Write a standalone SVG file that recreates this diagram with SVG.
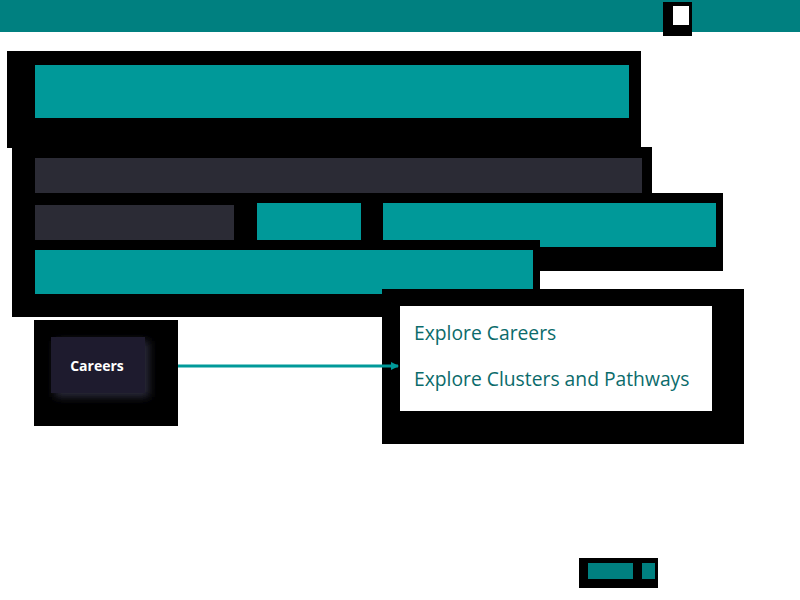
<svg xmlns="http://www.w3.org/2000/svg" width="800" height="600" viewBox="0 0 800 600">
<defs>
<style>
.sh{fill:#000}
.teal{fill:#009999}
.tealdk{fill:#008080}
.dark{fill:#2b2b35}
.menu{font-family:"Open Sans","Noto Sans",sans-serif;font-size:19.3px;fill:#0b6b6b}
.lbl{font-family:"Open Sans","Noto Sans",sans-serif;font-size:14px;font-weight:bold;fill:#ffffff}
</style>
<marker id="arr" markerWidth="8" markerHeight="8" refX="7" refY="4" orient="auto" markerUnits="userSpaceOnUse">
<path d="M0,0 L8,4 L0,8 Z" fill="#009999"/>
</marker>
<filter id="soft" x="-30%" y="-30%" width="160%" height="160%">
<feGaussianBlur stdDeviation="4"/>
</filter>
</defs>
<rect width="800" height="600" fill="#ffffff"/>
<g id="topbar">
<rect x="0" y="0" width="800" height="32" class="tealdk"/>
<rect x="663" y="2" width="29" height="34" class="sh"/>
<rect x="673" y="6" width="16" height="19" fill="#ffffff"/>
</g>
<g id="header">
<rect x="7" y="51" width="634" height="97" class="sh"/>
<rect x="35" y="65" width="594" height="53" class="teal"/>
</g>
<g id="body">
<rect x="12" y="147" width="640" height="46" class="sh"/>
<rect x="12" y="193" width="223" height="124" class="sh"/>
<rect x="35" y="158" width="607" height="35" class="dark"/>
<rect x="35" y="205" width="200" height="35" class="dark"/>
</g>
<g id="tabs">
<rect x="234" y="193" width="489" height="78" class="sh"/>
<rect x="257" y="203" width="104" height="37" class="teal"/>
<rect x="383" y="203" width="333" height="44" class="teal"/>
</g>
<g id="banner">
<rect x="13" y="240" width="527" height="77" class="sh"/>
<rect x="35" y="250" width="498" height="44" class="teal"/>
</g>
<g id="careers">
<rect x="34" y="320" width="144" height="106" class="sh"/>
<rect x="55" y="341" width="94" height="56" fill="#2a2a3a" filter="url(#soft)"/>
<rect x="51" y="337" width="94" height="56" fill="#1e1b2e"/>
<text x="97" y="371" text-anchor="middle" class="lbl">Careers</text>
</g>
<g id="dropdown">
<rect x="382" y="289" width="362" height="155" class="sh"/>
<rect x="400" y="306" width="312" height="105" fill="#ffffff"/>
<text x="414" y="340" class="menu">Explore Careers</text>
<text x="414" y="386" class="menu">Explore Clusters and Pathways</text>
</g>
<g id="connectors">
<line x1="178" y1="366" x2="398" y2="366" stroke="#009999" stroke-width="3" marker-end="url(#arr)"/>
</g>
<g id="footer">
<rect x="579" y="558" width="79" height="30" class="sh"/>
<rect x="588" y="563" width="45" height="16" class="tealdk"/>
<rect x="642" y="563" width="13" height="16" class="tealdk"/>
</g>
</svg>
